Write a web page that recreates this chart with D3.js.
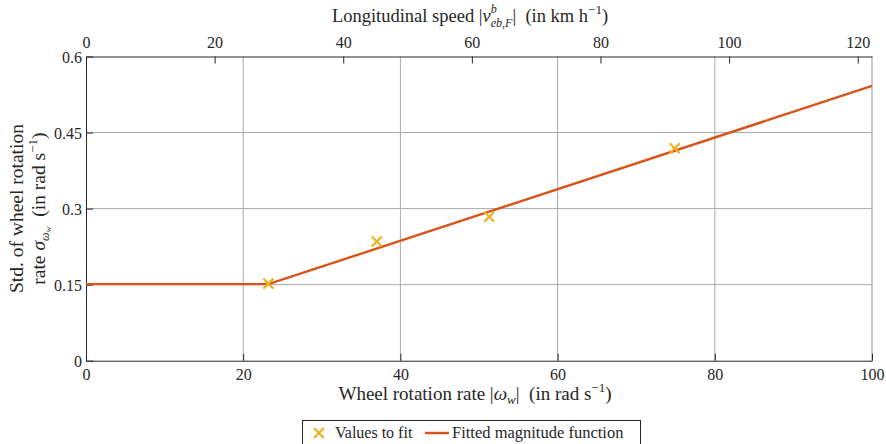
<!DOCTYPE html>
<html>
<head>
<meta charset="utf-8">
<script src="https://cdn.jsdelivr.net/npm/d3@7/dist/d3.min.js"></script>
<style>
  html, body { margin: 0; padding: 0; background: #fff; }
  svg { display: block; }
  text { font-family: "Liberation Serif", "DejaVu Serif", serif; fill: #262626; }
</style>
</head>
<body>
<svg id="chart" width="886" height="444"></svg>
<script>
// Measured standard deviation of the wheel rotation rate vs. wheel speed
const sampleOmega = [23.2, 37.0, 51.3, 74.9];
const sampleSigma = [0.152, 0.235, 0.284, 0.419];

// Fitted magnitude function: constant floor, then linear growth
const fitOmega = [0, 23.2, 100];
const fitSigma = [0.151, 0.151, 0.542];

const xTicks = [0, 20, 40, 60, 80, 100];
const yTicks = [0, 0.15, 0.3, 0.45, 0.6];
const speedTicks = [0, 20, 40, 60, 80, 100, 120];

// rad/s -> km/h conversion via wheel radius
const wheelRadius = 0.3395;
const toKmh = w => w * wheelRadius * 3.6;

const svg = d3.select("#chart");
const plotL = 86, plotR = 872, plotT = 56.5, plotB = 360.7;

const x = d3.scaleLinear().domain([0, 100]).range([plotL, plotR]);
const y = d3.scaleLinear().domain([0, 0.6]).range([plotB, plotT]);
const xTop = d3.scaleLinear().domain([0, toKmh(100)]).range([plotL, plotR]);

const gridColor = "#a9a9a9";
const axisColor = "#262626";
const NB = "\u00a0";

// grid
svg.append("g").selectAll("line").data(xTicks.filter(d => d > 0 && d < 100)).join("line")
  .attr("x1", d => x(d)).attr("x2", d => x(d)).attr("y1", plotT).attr("y2", plotB)
  .attr("stroke", gridColor).attr("stroke-width", 1);
svg.append("g").selectAll("line").data(yTicks.filter(d => d > 0 && d < 0.6)).join("line")
  .attr("x1", plotL).attr("x2", plotR).attr("y1", d => y(d)).attr("y2", d => y(d))
  .attr("stroke", gridColor).attr("stroke-width", 1);

// right border
svg.append("line").attr("x1", plotR).attr("x2", plotR).attr("y1", plotT).attr("y2", plotB)
  .attr("stroke", "#b8b8b8").attr("stroke-width", 1.5);

// axes
const fontSize = 16;
const bottomAxis = d3.axisBottom(x).tickValues(xTicks).tickSizeInner(-7).tickSizeOuter(0).tickPadding(8).tickFormat(d3.format("d"));
const gB = svg.append("g").attr("transform", `translate(0,${plotB})`).call(bottomAxis);

const leftAxis = d3.axisLeft(y).tickValues(yTicks).tickSizeInner(-7).tickSizeOuter(0).tickPadding(4)
  .tickFormat(d => d === 0 ? "0" : String(+d.toFixed(2)));
const gL = svg.append("g").attr("transform", `translate(${plotL},0)`).call(leftAxis);

const topAxis = d3.axisTop(xTop).tickValues(speedTicks).tickSizeInner(-7).tickSizeOuter(0).tickPadding(9).tickFormat(d3.format("d"));
const gT = svg.append("g").attr("transform", `translate(0,${plotT})`).call(topAxis);

[gB, gL, gT].forEach(g => {
  g.select(".domain").attr("stroke", axisColor).attr("stroke-width", 1);
  g.selectAll(".tick line").attr("stroke", axisColor).attr("stroke-width", 1);
  g.selectAll(".tick text").attr("font-size", fontSize).attr("font-family", "Liberation Serif").attr("fill", axisColor);
});
gL.selectAll(".tick text").attr("dy", "0.35em");

// fitted line
const line = d3.line().x(d => x(d[0])).y(d => y(d[1]));
svg.append("path").datum(d3.zip(fitOmega, fitSigma))
  .attr("d", line).attr("fill", "none").attr("stroke", "#D95319").attr("stroke-width", 2.4);

// sample crosses
const crossSize = 5;
const crossPath = (cx, cy) => `M${cx - crossSize},${cy - crossSize}L${cx + crossSize},${cy + crossSize}M${cx - crossSize},${cy + crossSize}L${cx + crossSize},${cy - crossSize}`;
svg.append("g").selectAll("path").data(d3.zip(sampleOmega, sampleSigma)).join("path")
  .attr("d", d => crossPath(x(d[0]), y(d[1])))
  .attr("stroke", "#EDB120").attr("stroke-width", 2.2).attr("fill", "none");

// axis titles
const bt = svg.append("text").attr("x", 475).attr("y", 400).attr("text-anchor", "middle").attr("font-size", 19);
bt.append("tspan").text("Wheel rotation rate |");
bt.append("tspan").attr("font-style", "italic").text("ω");
bt.append("tspan").attr("font-style", "italic").attr("font-size", 13).attr("dy", 4).text("w");
bt.append("tspan").attr("dy", -4).text(`|${NB}${NB}(in rad${NB}s`);
bt.append("tspan").attr("font-size", 13).attr("dy", -8).text("−1");
bt.append("tspan").attr("dy", 8).text(")");

const tt = svg.append("text").attr("x", 470).attr("y", 22).attr("text-anchor", "middle").attr("font-size", 18.5);
tt.append("tspan").text("Longitudinal speed |");
tt.append("tspan").attr("font-style", "italic").text("v");
tt.append("tspan").attr("font-style", "italic").attr("font-size", 12).attr("dy", -9).text("b");
tt.append("tspan").attr("font-style", "italic").attr("font-size", 12).attr("dx", -6).attr("dy", 14).text("eb,F");
tt.append("tspan").attr("dy", -5).text(`|${NB}${NB}(in km${NB}h`);
tt.append("tspan").attr("font-size", 13).attr("dy", -8).text("−1");
tt.append("tspan").attr("dy", 8).text(")");

const ycx = (plotT + plotB) / 2;
const ySize = 19.5;
const yl = svg.append("g").attr("transform", `translate(0,${ycx}) rotate(-90)`);
yl.append("text").attr("x", 0).attr("y", 23).attr("text-anchor", "middle").attr("font-size", ySize)
  .text("Std. of wheel rotation");
const yl2 = yl.append("text").attr("x", 0).attr("y", 45).attr("text-anchor", "middle").attr("font-size", ySize);
yl2.append("tspan").text("rate ");
yl2.append("tspan").attr("font-style", "italic").text("σ");
yl2.append("tspan").attr("font-style", "italic").attr("font-size", 12).attr("dy", 4).text("ω");
yl2.append("tspan").attr("font-style", "italic").attr("font-size", 9).attr("dy", 2).text("w");
yl2.append("tspan").attr("dy", -6).text(`${NB}${NB}(in rad${NB}s`);
yl2.append("tspan").attr("font-size", 13).attr("dy", -8).text("−1");
yl2.append("tspan").attr("dy", 8).text(")");

// legend
const lg = svg.append("g");
lg.append("rect").attr("x", 302.5).attr("y", 420.5).attr("width", 338).attr("height", 28)
  .attr("fill", "#fff").attr("stroke", axisColor).attr("stroke-width", 1);
lg.append("path").attr("d", crossPath(319, 433)).attr("stroke", "#EDB120").attr("stroke-width", 2.2).attr("fill", "none");
lg.append("text").attr("x", 335).attr("y", 438).attr("font-size", fontSize).text("Values to fit");
lg.append("line").attr("x1", 425).attr("x2", 449).attr("y1", 433).attr("y2", 433)
  .attr("stroke", "#D95319").attr("stroke-width", 2.4);
lg.append("text").attr("x", 452).attr("y", 438).attr("font-size", 16.5).text("Fitted magnitude function");
</script>
</body>
</html>
